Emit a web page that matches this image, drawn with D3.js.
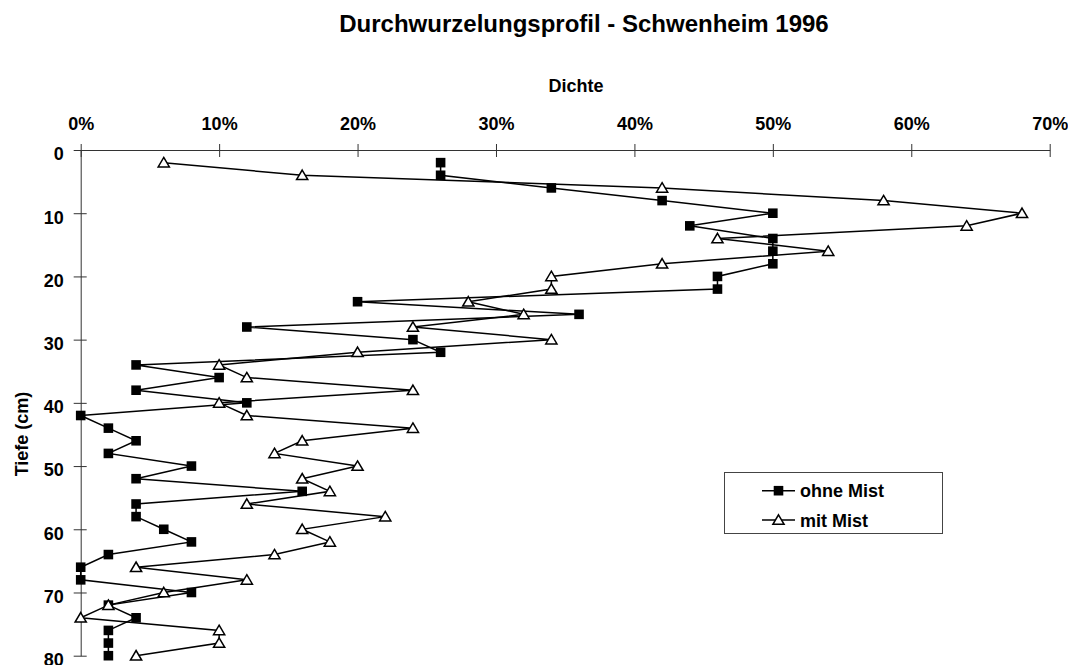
<!doctype html>
<html lang="de">
<head>
    <meta charset="UTF-8">
    <title>Durchwurzelungsprofil</title>
    <script src="https://d3js.org/d3.v7.min.js"></script>
    <style>
        body { margin: 0; background: #fff; }
        svg { display: block; font-family: "Liberation Sans", Arial, sans-serif; font-weight: bold; }
        .axis path, .axis line { stroke: #333; }
        .axis text { font-size: 18px; font-weight: bold; fill: #000; font-family: "Liberation Sans", Arial, sans-serif; }
    </style>
</head>
<body>
<svg id="chart" width="1068" height="665"></svg>
<script>
    // Tiefe in cm (2 cm Schritte)
    var depths = [2, 4, 6, 8, 10, 12, 14, 16, 18, 20, 22, 24, 26, 28, 30, 32, 34, 36, 38, 40,
        42, 44, 46, 48, 50, 52, 54, 56, 58, 60, 62, 64, 66, 68, 70, 72, 74, 76, 78, 80];

    // Dichte in %
    var ohneMist = [26, 26, 34, 42, 50, 44, 50, 50, 50, 46, 46, 20, 36, 12, 24, 26, 4, 10, 4, 12,
        0, 2, 4, 2, 8, 4, 16, 4, 4, 6, 8, 2, 0, 0, 8, 2, 4, 2, 2, 2];
    var mitMist = [6, 16, 42, 58, 68, 64, 46, 54, 42, 34, 34, 28, 32, 24, 34, 20, 10, 12, 24, 10,
        12, 24, 16, 14, 20, 16, 18, 12, 22, 16, 18, 14, 4, 12, 6, 2, 0, 10, 10, 4];

    var xTicks = [0, 10, 20, 30, 40, 50, 60, 70];
    var yTicks = [0, 10, 20, 30, 40, 50, 60, 70, 80];
    var seriesNames = ["ohne Mist", "mit Mist"];

    var svg = d3.select("#chart");

    var x = d3.scaleLinear().domain([0, 70]).range([80.7, 1049.7]);
    var y = d3.scaleLinear().domain([0, 80]).range([150, 655.7]);

    svg.append("text")
        .attr("x", 584)
        .attr("y", 32)
        .attr("text-anchor", "middle")
        .style("font-size", "24px")
        .text("Durchwurzelungsprofil - Schwenheim 1996");

    // x Achse oben
    var xAxis = d3.axisTop(x)
        .tickValues(xTicks)
        .tickFormat(function (d) { return d + "%"; })
        .tickSizeInner(6)
        .tickSizeOuter(0);
    var gx = svg.append("g")
        .attr("class", "axis")
        .attr("transform", "translate(0," + y(0) + ")")
        .call(xAxis);
    gx.selectAll(".tick line").attr("y1", 7).attr("y2", -6);
    gx.selectAll(".tick text").attr("y", -20);

    svg.append("text")
        .attr("x", 576)
        .attr("y", 92)
        .attr("text-anchor", "middle")
        .style("font-size", "18px")
        .text("Dichte");

    // y Achse
    var yAxis = d3.axisLeft(y)
        .tickValues(yTicks)
        .tickSizeInner(6)
        .tickSizeOuter(0);
    var gy = svg.append("g")
        .attr("class", "axis")
        .attr("transform", "translate(" + x(0) + ",0)")
        .call(yAxis);
    gy.selectAll(".tick line").attr("x1", -7).attr("x2", 6);
    gy.selectAll(".tick text").attr("x", -17).attr("dy", "0.55em");

    svg.append("text")
        .attr("transform", "translate(28,434) rotate(-90)")
        .attr("text-anchor", "middle")
        .style("font-size", "18px")
        .text("Tiefe (cm)");

    var line = d3.line()
        .x(function (d) { return x(d[0]); })
        .y(function (d) { return y(d[1]); });

    var ohneData = d3.zip(ohneMist, depths);
    var mitData = d3.zip(mitMist, depths);

    var square = d3.symbol().type(d3.symbolSquare).size(92);
    var triangle = "M0,-5.2L5.6,4.3L-5.6,4.3Z";

    svg.append("path")
        .datum(ohneData)
        .attr("fill", "none")
        .attr("stroke", "#000")
        .attr("stroke-width", 1.5)
        .attr("d", line);

    svg.append("path")
        .datum(mitData)
        .attr("fill", "none")
        .attr("stroke", "#000")
        .attr("stroke-width", 1.5)
        .attr("d", line);

    svg.append("g").selectAll("path")
        .data(ohneData)
        .enter()
        .append("path")
        .attr("d", square)
        .attr("fill", "#000")
        .attr("transform", function (d) { return "translate(" + x(d[0]) + "," + y(d[1]) + ")"; });

    svg.append("g").selectAll("path")
        .data(mitData)
        .enter()
        .append("path")
        .attr("d", triangle)
        .attr("fill", "#fff")
        .attr("stroke", "#000")
        .attr("stroke-width", 1.5)
        .attr("transform", function (d) { return "translate(" + x(d[0]) + "," + y(d[1]) + ")"; });

    // Legende
    var legend = svg.append("g");
    legend.append("rect")
        .attr("x", 724.5)
        .attr("y", 472.5)
        .attr("width", 218)
        .attr("height", 61)
        .attr("fill", "#fff")
        .attr("stroke", "#444")
        .attr("stroke-width", 1);

    seriesNames.forEach(function (name, i) {
        var ly = 490.7 + i * 29.3;
        legend.append("line")
            .attr("x1", 762).attr("x2", 795)
            .attr("y1", ly).attr("y2", ly)
            .attr("stroke", "#000")
            .attr("stroke-width", 1.5);
        legend.append("path")
            .attr("d", i === 0 ? square : triangle)
            .attr("fill", i === 0 ? "#000" : "#fff")
            .attr("stroke", i === 0 ? "none" : "#000")
            .attr("stroke-width", 1.5)
            .attr("transform", "translate(778.5," + ly + ")");
        legend.append("text")
            .attr("x", 800)
            .attr("y", ly + 6.5)
            .style("font-size", "18px")
            .text(name);
    });
</script>
</body>
</html>
